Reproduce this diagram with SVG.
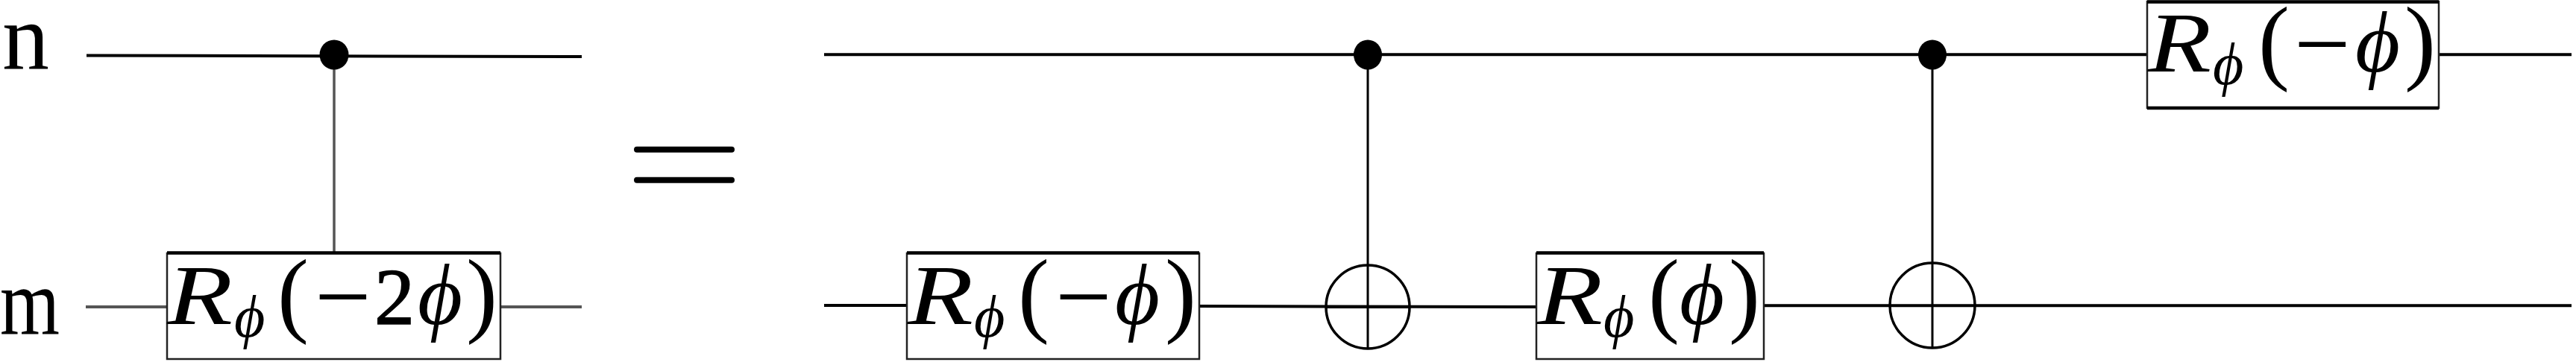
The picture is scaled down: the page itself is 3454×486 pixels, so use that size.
<svg xmlns="http://www.w3.org/2000/svg" width="3454" height="486" viewBox="0 0 3454 486">
<style>
.w{stroke:#000;stroke-width:4;fill:none}
.g{stroke:#555;stroke-width:4;fill:none}
.v{stroke:#000;stroke-width:3;fill:none}
.b{fill:#fff;stroke:#222;stroke-width:2.5}
.t{stroke:#000;stroke-width:4.5;fill:none}
.d{fill:#000}
.o{fill:none;stroke:#000;stroke-width:3.5}
.eq{stroke:#000;stroke-width:8;stroke-linecap:round}
text{font-family:"Liberation Serif","DejaVu Serif",serif;fill:#000}
.lab{font-size:126px}
.R{font-style:italic;font-size:114px}
.s{font-style:italic;font-size:80px}
.P{font-style:normal;font-size:126px}
.M{font-style:normal;font-size:134px}
.N{font-style:normal;font-size:108px;stroke:#000;stroke-width:1.5}
.F{font-style:italic;font-size:116px}
</style>
<g id="connectors">
<line class="w" x1="116" y1="74.5" x2="780" y2="76"/>
<line class="v" x1="448" y1="93" x2="448" y2="342" style="stroke:#555;stroke-width:3.5"/>
<line class="g" x1="115" y1="412" x2="224" y2="412"/>
<line class="g" x1="671" y1="412" x2="780" y2="412"/>
<line class="w" x1="1105" y1="73.3" x2="2879" y2="73.3"/>
<line class="w" x1="3270" y1="73.3" x2="3448" y2="73.3"/>
<line class="w" x1="1105" y1="410" x2="1216" y2="410"/>
<line class="w" x1="1608" y1="411" x2="2060" y2="412"/>
<line class="w" x1="2365" y1="410.3" x2="3448" y2="410.3"/>
<line class="v" x1="1834" y1="93" x2="1834" y2="468"/>
<line class="v" x1="2591" y1="93" x2="2591" y2="466"/>
</g>
<g id="label-n"><text class="lab" x="3" y="93">n</text></g>
<g id="label-m"><text class="lab" x="0" y="448" textLength="80" lengthAdjust="spacingAndGlyphs">m</text></g>
<g id="dot-left"><ellipse class="d" cx="448" cy="73.5" rx="19.5" ry="20"/></g>
<g id="gate-left">
<rect class="b" x="224" y="340" width="447" height="142"/>
<line class="t" x1="224" y1="339.5" x2="671" y2="339.5"/>
<text class="R" x="224" y="435" textLength="88" lengthAdjust="spacingAndGlyphs">R</text>
<text><tspan class="s" x="314" y="452">ϕ</tspan><tspan class="P" x="372" y="436">(</tspan><tspan class="M" x="422" y="443">−</tspan><tspan class="N" x="502" y="435">2</tspan><tspan class="F" x="560" y="435">ϕ</tspan><tspan class="P" x="625" y="436">)</tspan></text>
</g>
<g id="equals">
<line class="eq" x1="854" y1="200.7" x2="981" y2="200.7"/>
<line class="eq" x1="854" y1="241.7" x2="981" y2="241.7"/>
</g>
<g id="gate-1">
<rect class="b" x="1216" y="340" width="392" height="142"/>
<line class="t" x1="1216" y1="339.5" x2="1608" y2="339.5"/>
<text class="R" x="1217" y="435" textLength="88" lengthAdjust="spacingAndGlyphs">R</text>
<text><tspan class="s" x="1306" y="452">ϕ</tspan><tspan class="P" x="1365" y="436">(</tspan><tspan class="M" x="1415" y="443">−</tspan><tspan class="F" x="1495" y="435">ϕ</tspan><tspan class="P" x="1562" y="436">)</tspan></text>
</g>
<g id="dot-1"><ellipse class="d" cx="1834" cy="73.5" rx="19" ry="20"/></g>
<g id="xor-1"><circle class="o" cx="1834" cy="412" r="56"/><line class="w" x1="1778" y1="412" x2="1890" y2="412"/></g>
<g id="gate-2">
<rect class="b" x="2060" y="340" width="305" height="142"/>
<line class="t" x1="2060" y1="339.5" x2="2365" y2="339.5"/>
<text class="R" x="2061" y="435" textLength="88" lengthAdjust="spacingAndGlyphs">R</text>
<text><tspan class="s" x="2150" y="452">ϕ</tspan><tspan class="P" x="2210" y="436">(</tspan><tspan class="F" x="2252" y="435">ϕ</tspan><tspan class="P" x="2318" y="436">)</tspan></text>
</g>
<g id="dot-2"><ellipse class="d" cx="2591" cy="73.5" rx="19" ry="20"/></g>
<g id="xor-2"><circle class="o" cx="2591" cy="410" r="57"/></g>
<g id="gate-3">
<rect class="b" x="2879" y="2" width="391" height="143"/>
<line class="t" x1="2879" y1="2.5" x2="3270" y2="2.5"/>
<line class="t" x1="2879" y1="145" x2="3270" y2="145"/>
<text class="R" x="2880" y="96" textLength="85" lengthAdjust="spacingAndGlyphs">R</text>
<text><tspan class="s" x="2967" y="113">ϕ</tspan><tspan class="P" x="3028" y="97">(</tspan><tspan class="M" x="3076" y="104">−</tspan><tspan class="F" x="3158" y="96">ϕ</tspan><tspan class="P" x="3224" y="97">)</tspan></text>
</g>
</svg>
